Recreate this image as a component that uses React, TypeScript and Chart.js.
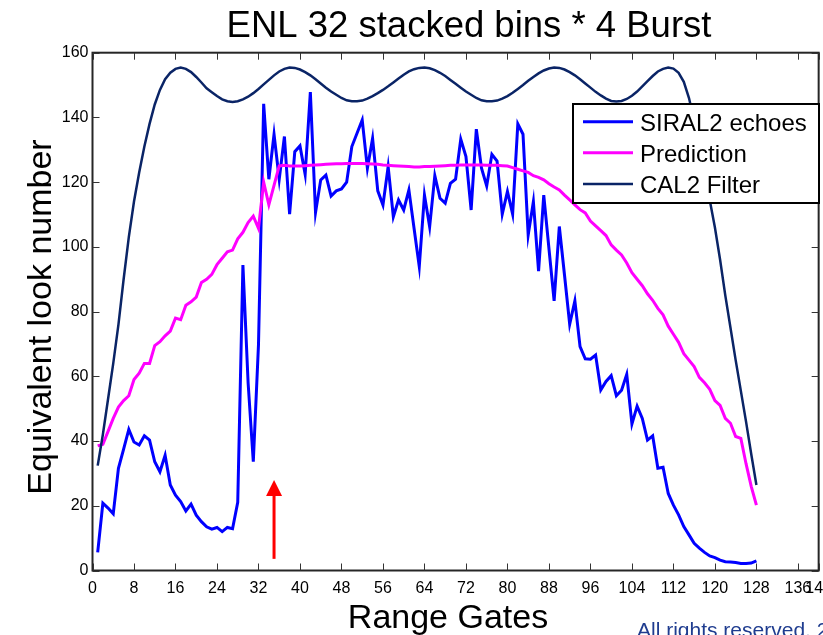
import React, { useEffect, useRef } from "react";
import { Chart, registerables } from "chart.js";

Chart.register(...registerables);

const gates: number[] = Array.from({ length: 128 }, (_, i) => i + 1);

const siral2Echoes: number[] = [
  5.6, 20.8, 19.3, 17.5, 31.6, 37.5, 43.6, 39.7, 38.8, 41.6,
  40.3, 33.6, 30.5, 35.6, 26.4, 23.3, 21.3, 18.4, 20.5, 17.1,
  15.1, 13.5, 12.8, 13.3, 12.0, 13.3, 12.9, 21.1, 94.4, 58,
  33.6, 69.7, 144.2, 120.9, 134.8, 120.9, 134.1, 110.1, 129.4, 131.2,
  122.4, 147.8, 110.6, 120.7, 122.2, 115.7, 117.3, 117.9, 120.0, 131.0,
  135.1, 139.2, 124.3, 133.5, 117.3, 112.9, 124.8, 109.3, 114.5, 111.4,
  117.6, 105.7, 93.9, 116.0, 106.2, 122.0, 115.0, 113.5, 119.6, 120.9,
  133.3, 127.9, 111.4, 136.4, 124.3, 118.8, 128.6, 126.5, 110.1, 117.1,
  110.1, 138.0, 134.8, 103.7, 114.0, 92.5, 116.0, 99.5, 83.3, 106.3,
  91.3, 76.1, 83.3, 69.2, 65.4, 65.3, 66.6, 55.8, 58.4, 60.2,
  54.0, 55.7, 60.6, 45.3, 50.8, 47.0, 40.3, 41.6, 31.6, 31.9,
  23.8, 20.2, 17.2, 13.6, 11.0, 8.4, 6.9, 5.6, 4.5, 4.0,
  3.2, 2.7, 2.6, 2.5, 2.2, 2.2, 2.3, 3.0,
];

const prediction: number[] = [
  38.5, 39, 43, 47, 50.5, 52.5, 54, 59, 61, 64,
  64, 69.5, 70.7, 72.5, 74, 78, 77.5, 82, 83, 84.5,
  89, 90, 91.5, 94.5, 96.5, 98.5, 99, 102.5, 104.5, 107.5,
  109.5, 105.7, 120, 113, 119, 125, 125.2, 125, 125, 125,
  125.1, 125.2, 125.3, 125.4, 125.5, 125.6, 125.7, 125.7, 125.8, 125.8,
  125.8, 125.8, 125.7, 125.6, 125.5, 125.3, 125.2, 125.1, 125, 124.9,
  124.8, 124.7, 124.7, 124.8, 124.8, 124.9, 125, 125.1, 125.2, 125.2,
  125.3, 125.3, 125.3, 125.3, 125.3, 125.2, 125.2, 125.2, 125.1, 125,
  124.5, 124, 123.5, 123, 122, 121.5, 120.7, 119.5, 118.5, 117.6,
  116, 114.5, 113, 111.5, 110.5, 108, 106.5, 105, 103.5, 100.6,
  99, 97.5, 95, 92, 90, 88, 85.5, 83.5, 81, 79,
  75.5, 73, 70.5, 67, 65, 63, 59.7, 58, 56, 52.5,
  51, 47, 45.5, 41.4, 40.8, 33, 26, 20.2,
];

const cal2Filter: number[] = [
  32.4, 42, 53, 64, 76, 90, 103, 114, 123, 131,
  138, 144, 148.5, 151.8, 153.8, 155, 155.4, 155, 154, 152.5,
  150.8, 149, 147.8, 146.6, 145.6, 145, 144.8, 145, 145.6, 146.4,
  147.5, 148.8, 150.2, 151.6, 153, 154.2, 155, 155.4, 155.3, 154.8,
  154, 153, 151.8, 150.5, 149.2, 148, 147, 146, 145.3, 145,
  145, 145.2, 145.8, 146.6, 147.5, 148.5, 149.6, 150.8, 152, 153.2,
  154.2, 154.9, 155.3, 155.4, 155.2, 154.6, 153.8, 152.8, 151.6, 150.4,
  149.2, 148, 147, 146, 145.3, 145, 145, 145.2, 145.8, 146.6,
  147.6, 148.8, 150, 151.3, 152.5, 153.6, 154.5, 155.1, 155.4, 155.3,
  154.8, 154, 153, 151.8, 150.5, 149.2, 147.9, 146.8, 145.8, 145.1,
  144.9, 145.1, 145.7, 146.7, 148, 149.6, 151.2, 152.8, 154.2, 155,
  155.4, 155.1, 153.8, 151, 146, 139, 131, 123, 114.5, 106,
  96, 85, 75, 65, 55.5, 46, 36, 26.4,
];

const seriesNames: string[] = ["SIRAL2 echoes", "Prediction", "CAL2 Filter"];
const seriesColors: string[] = ["#0000ff", "#ff00ff", "#0a2466"];
const xTickValues: number[] = [0, 8, 16, 24, 32, 40, 48, 56, 64, 72, 80, 88, 96, 104, 112, 120, 128, 136, 140];
const yTickValues: number[] = [0, 20, 40, 60, 80, 100, 120, 140, 160];
const arrowGate = 35;
const arrowFrom = 3.6;
const arrowTip = 28;

const titleText = "ENL 32 stacked bins * 4 Burst";
const xTitle = "Range Gates";
const yTitle = "Equivalent look number";
const footerText = "All rights reserved. 2";

const FONT = "'Liberation Sans', Arial, Helvetica, sans-serif";

const CANVAS_W = 840;
const CANVAS_H = 635;

const toPoints = (vals: number[]) => vals.map((v, i) => ({ x: gates[i], y: v }));

const overlayPlugin = {
  id: "overlay",
  afterDraw(chart: any) {
    const ctx: CanvasRenderingContext2D = chart.ctx;
    const { left, right, top, bottom } = chart.chartArea;
    const xs = chart.scales.x;
    const ys = chart.scales.y;
    ctx.save();

    // axes box
    ctx.strokeStyle = "#262626";
    ctx.lineWidth = 2;
    ctx.strokeRect(left, top, right - left, bottom - top);

    // ticks (inside, MATLAB style)
    ctx.lineWidth = 1;
    ctx.strokeStyle = "#333";
    const tl = 7;
    ctx.beginPath();
    for (const v of xTickValues) {
      const px = Math.round(xs.getPixelForValue(v)) + 0.5;
      ctx.moveTo(px, bottom);
      ctx.lineTo(px, bottom - tl);
      ctx.moveTo(px, top);
      ctx.lineTo(px, top + tl);
    }
    for (const v of yTickValues) {
      const py = Math.round(ys.getPixelForValue(v)) + 0.5;
      ctx.moveTo(left, py);
      ctx.lineTo(left + tl, py);
      ctx.moveTo(right, py);
      ctx.lineTo(right - tl, py);
    }
    ctx.stroke();

    // red arrow
    const ax = xs.getPixelForValue(arrowGate);
    const ay0 = ys.getPixelForValue(arrowFrom);
    const ay1 = ys.getPixelForValue(arrowTip);
    const headLen = 16;
    ctx.strokeStyle = "#ff0000";
    ctx.fillStyle = "#ff0000";
    ctx.lineWidth = 3;
    ctx.beginPath();
    ctx.moveTo(ax, ay0);
    ctx.lineTo(ax, ay1 + headLen - 1);
    ctx.stroke();
    ctx.beginPath();
    ctx.moveTo(ax, ay1);
    ctx.lineTo(ax - 8, ay1 + headLen);
    ctx.lineTo(ax + 8, ay1 + headLen);
    ctx.closePath();
    ctx.fill();

    // legend
    const lx = 573, ly = 104, lw = 246, lh = 99;
    ctx.fillStyle = "#fff";
    ctx.fillRect(lx, ly, lw, lh);
    ctx.strokeStyle = "#000";
    ctx.lineWidth = 2;
    ctx.strokeRect(lx, ly, lw, lh);
    const rows = [121.7, 152.7, 184];
    ctx.font = `24px ${FONT}`;
    ctx.textAlign = "left";
    ctx.textBaseline = "alphabetic";
    seriesNames.forEach((name, i) => {
      ctx.strokeStyle = seriesColors[i];
      ctx.lineWidth = i === 2 ? 2.5 : 3;
      ctx.beginPath();
      ctx.moveTo(583, rows[i]);
      ctx.lineTo(633, rows[i]);
      ctx.stroke();
      ctx.fillStyle = "#000";
      ctx.fillText(name, 640, rows[i] + 9);
    });

    // titles
    ctx.fillStyle = "#000";
    ctx.textAlign = "center";
    ctx.textBaseline = "alphabetic";
    ctx.font = `36.5px ${FONT}`;
    ctx.fillText(titleText, 469, 37);
    ctx.font = `34px ${FONT}`;
    ctx.fillText(xTitle, 448, 628);
    ctx.save();
    ctx.translate(51, 317);
    ctx.rotate(-Math.PI / 2);
    ctx.fillText(yTitle, 0, 0);
    ctx.restore();

    // footer
    ctx.fillStyle = "#1f3c8f";
    ctx.font = `21px ${FONT}`;
    ctx.textAlign = "left";
    ctx.fillText(footerText, 637, 637);

    ctx.restore();
  },
};

export default function App() {
  const canvasRef = useRef<HTMLCanvasElement | null>(null);

  useEffect(() => {
    const canvas = canvasRef.current;
    if (!canvas) return;
    const chart = new Chart(canvas, {
      type: "line",
      data: {
        datasets: [
          {
            label: seriesNames[0],
            data: toPoints(siral2Echoes),
            borderColor: seriesColors[0],
            borderWidth: 3,
            pointRadius: 0,
            tension: 0,
            order: 2,
          },
          {
            label: seriesNames[1],
            data: toPoints(prediction),
            borderColor: seriesColors[1],
            borderWidth: 3,
            pointRadius: 0,
            tension: 0,
            order: 1,
          },
          {
            label: seriesNames[2],
            data: toPoints(cal2Filter),
            borderColor: seriesColors[2],
            borderWidth: 2.5,
            pointRadius: 0,
            tension: 0,
            order: 0,
          },
        ],
      },
      options: {
        responsive: false,
        animation: false,
        devicePixelRatio: 1,
        layout: { padding: { left: 0, top: 52.7, right: CANVAS_W - 823.6, bottom: 0 } },
        plugins: {
          legend: { display: false },
          title: { display: false },
          tooltip: { enabled: false },
        },
        scales: {
          x: {
            type: "linear",
            min: 0,
            max: 140,
            afterBuildTicks: (s: any) => {
              s.ticks = xTickValues.map((v) => ({ value: v }));
            },
            afterFit: (s: any) => {
              s.height = 64.5;
            },
            ticks: {
              autoSkip: false,
              maxRotation: 0,
              minRotation: 0,
              padding: 8,
              color: "#000",
              font: { family: FONT, size: 16 },
            },
            grid: { display: false, drawTicks: false },
            border: { display: false },
          },
          y: {
            type: "linear",
            min: 0,
            max: 160,
            afterBuildTicks: (s: any) => {
              s.ticks = yTickValues.map((v) => ({ value: v }));
            },
            afterFit: (s: any) => {
              s.width = 92.5;
            },
            ticks: {
              autoSkip: false,
              padding: 4,
              color: "#000",
              font: { family: FONT, size: 16 },
            },
            grid: { display: false, drawTicks: false },
            border: { display: false },
          },
        },
      },
      plugins: [overlayPlugin],
    } as any);
    return () => chart.destroy();
  }, []);

  return (
    <div
      style={{
        position: "fixed",
        left: 0,
        top: 0,
        width: 823,
        height: 635,
        overflow: "hidden",
        background: "#fff",
      }}
    >
      <canvas
        ref={canvasRef}
        width={CANVAS_W}
        height={CANVAS_H}
        style={{ display: "block", width: CANVAS_W, height: CANVAS_H }}
      />
    </div>
  );
}
